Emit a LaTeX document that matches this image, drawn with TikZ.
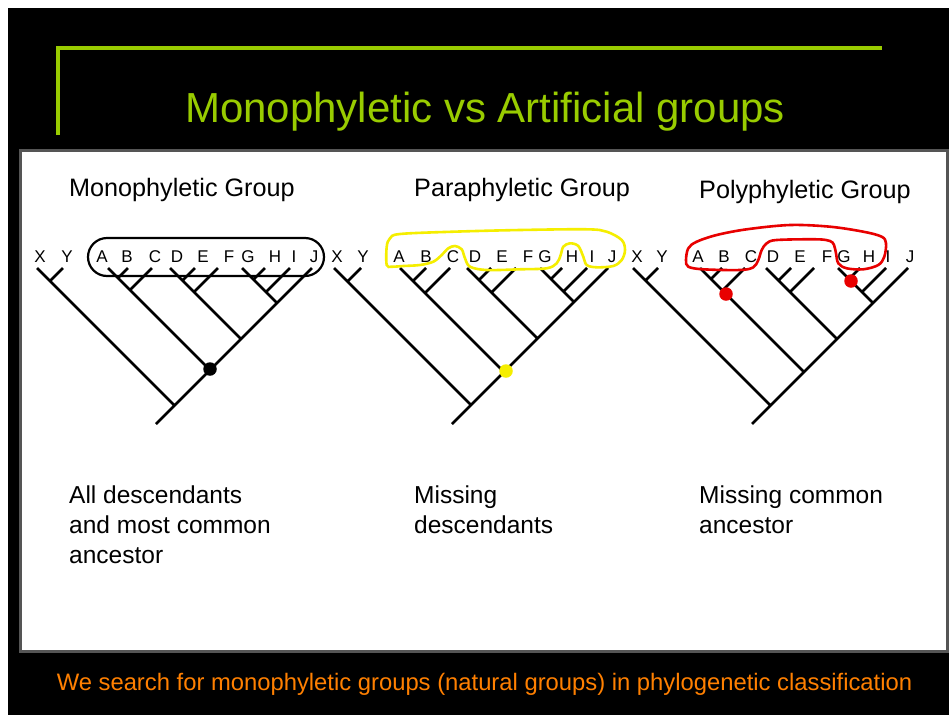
\documentclass[tikz,border=0pt]{standalone}
\usepackage{fontspec}
\setmainfont{Liberation Sans}
\definecolor{titlegreen}{RGB}{153,204,0}
\definecolor{noteorange}{RGB}{255,128,0}
\definecolor{hiyellow}{RGB}{245,238,0}
\definecolor{hired}{RGB}{232,0,0}
\definecolor{framegray}{RGB}{85,85,85}

\begin{document}
\begin{tikzpicture}[x=1pt, y=-1pt,
	branch/.style={line width=2.6pt},
	taxon/.style={inner sep=0pt, anchor=base, font=\fontsize{17}{17}\selectfont},
	heading/.style={inner sep=0pt, anchor=base west, font=\fontsize{25.2}{30}\selectfont},
	caption/.style={inner sep=0pt, anchor=north west, align=left, font=\fontsize{24.5}{30}\selectfont},
	ancestor/.style={circle, inner sep=0pt, minimum size=13.5pt}]
	\useasboundingbox (0,0) rectangle (949,715);
	\fill[white] (0,0) rectangle (949,715);
	\fill[black] (8,8) rectangle (949,715);
	% slide title
	\draw[titlegreen, line width=4pt] (57.5,135)--(57.5,48)--(882,48);
	\node[inner sep=0pt, anchor=base, titlegreen, font=\fontsize{42}{50}\selectfont] (title) at (485,122) {Monophyletic vs Artificial groups};
	\draw[framegray, line width=3pt, fill=white] (20.5,150.5) rectangle (947.5,651.5);
	\node[heading] (monoHead) at (69,196.5) {Monophyletic Group};
	\node[heading] (paraHead) at (414,196.5) {Paraphyletic Group};
	\node[heading] (polyHead) at (699,198) {Polyphyletic Group};

	% monophyletic tree
	\foreach \t/\x in {X/37,Y/63,A/108,B/128,C/152,D/170,E/195,F/218,G/242,H/265,I/290,J/312}
		\coordinate (mono\t) at (\x,268);
	\foreach \t/\x in {X/40,Y/67,A/102,B/127,C/155,D/177,E/203,F/229,G/248,H/275,I/294,J/314}
		\node[taxon] (monoLab\t) at (\x,262) {\t};
	\draw[branch] (monoJ)--++(-156,156) (monoX)--++(137.5,137.5) (monoY)--++(-13,13)
		(monoA)--++(102,102) (monoB)--++(-10,10) (monoC)--++(-22,22)
		(monoD)--++(71,71) (monoE)--++(-12.5,12.5) (monoF)--++(-24,24)
		(monoG)--++(35,35) (monoH)--++(-11.5,11.5) (monoI)--++(-24,24);
	\draw[line width=2.2pt, rounded corners=19pt] (88,238) rectangle (324,276);
	\node[ancestor, fill=black] (monoRoot) at (210,369) {};

	% paraphyletic tree
	\foreach \t/\x in {X/334,Y/361,A/400,B/426,C/450,D/467,E/491,F/516,G/540,H/562,I/587,J/608}
		\coordinate (para\t) at (\x,268);
	\foreach \t/\x in {X/337,Y/363,A/399,B/426,C/453,D/475,E/502,F/528,G/545,H/572,I/592,J/612}
		\node[taxon] (paraLab\t) at (\x,262) {\t};
	\draw[branch] (paraJ)--++(-156,156) (paraX)--++(137,137) (paraY)--++(-13.5,13.5)
		(paraA)--++(104,104) (paraB)--++(-13,13) (paraC)--++(-25,25)
		(paraD)--++(70.5,70.5) (paraE)--++(-12,12) (paraF)--++(-24.5,24.5)
		(paraG)--++(34,34) (paraH)--++(-11,11) (paraI)--++(-23.5,23.5);
	\draw[hiyellow, line width=2.6pt] plot[smooth cycle, tension=0.55] coordinates {
		(386.7,265) (386.7,246.7) (390,238.3) (400,234) (453.3,231.7) (520,230)
		(586.7,229.3) (606.7,231.7) (621.7,240) (625,250) (621.7,260) (613.3,266)
		(596.7,267.3) (586.7,265) (583.3,256.7) (578.3,246) (570,243.3) (563.3,246.7)
		(560.7,255) (556.7,263.3) (546.7,268.3) (520,269.3) (486.7,270) (470,266.7)
		(465,258.3) (461.7,249.3) (455,246) (448.3,248.3) (441.7,255) (433.3,261.7)
		(420,265) (403.3,266) (391.7,266.7)};
	\node[ancestor, fill=hiyellow] (paraRoot) at (506,371) {};

	% polyphyletic tree
	\foreach \t/\x in {X/633,Y/658,A/700,B/722,C/745,D/766,E/791,F/814,G/838,H/860,I/886,J/908}
		\coordinate (poly\t) at (\x,268);
	\foreach \t/\x in {X/637,Y/662,A/698,B/724,C/751,D/773,E/800,F/827,G/844,H/869,I/888,J/910}
		\node[taxon] (polyLab\t) at (\x,262) {\t};
	\draw[branch] (polyJ)--++(-156,156) (polyX)--++(137.5,137.5) (polyY)--++(-12.5,12.5)
		(polyA)--++(104,104) (polyB)--++(-11,11) (polyC)--++(-22.5,22.5)
		(polyD)--++(71,71) (polyE)--++(-12.5,12.5) (polyF)--++(-24,24)
		(polyG)--++(35,35) (polyH)--++(-11,11) (polyI)--++(-24,24);
	\draw[hired, line width=2.6pt] plot[smooth cycle, tension=0.55] coordinates {
		(688.3,248.3) (696.7,241.7) (716.7,235) (746.7,229.3) (790,225) (830,226.7)
		(863.3,231.7) (881.7,236.7) (886,243.3) (884.3,256.7) (878.3,265) (863.3,269.3)
		(846.7,268.3) (838.3,263.3) (836,253.3) (834,245) (830,241) (816.7,239.3)
		(776.7,240) (766.7,243.3) (761.7,250) (758.3,260) (753.3,267.3) (740,270)
		(703.3,269.3) (688.3,266.7) (686,260)};
	\node[ancestor, fill=hired] (polyABC) at (726,294) {};
	\node[ancestor, fill=hired] (polyGH) at (851,281) {};

	% explanations
	\node[caption] (monoNote) at (69,485.5) {All descendants\\and most common\\ancestor};
	\node[caption] (paraNote) at (414,485.5) {Missing\\descendants};
	\node[caption] (polyNote) at (699,485.5) {Missing common\\ancestor};
	\node[inner sep=0pt, anchor=base, noteorange, font=\fontsize{23.8}{28}\selectfont] (footer) at (484.5,690) {We search for monophyletic groups (natural groups) in phylogenetic classification};
\end{tikzpicture}
\end{document}
